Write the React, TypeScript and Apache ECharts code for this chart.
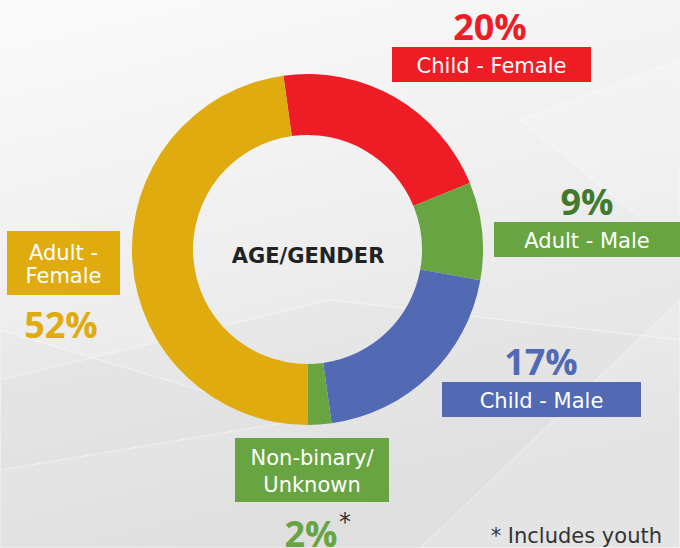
import React, { useEffect, useRef } from "react";
import * as echarts from "echarts";

const categories = ["Child - Female", "Adult - Male", "Child - Male", "Non-binary/\nUnknown", "Adult -\nFemale"];
const sliceValues = [21, 9, 20, 2.2, 47.8];
const percentLabels = ["20%", "9%", "17%", "2%", "52%"];
const sliceColors = ["#ee1d25", "#68a542", "#526ab4", "#68a542", "#dfab0e"];
const percentColors = ["#ee1d25", "#417a2c", "#526ab4", "#68a542", "#dfab0e"];
const centerTitle = "AGE/GENDER";
const footnote = "* Includes youth";
const footnoteMark = "*";

const boxLayout = [
  { x: 392, y: 47, w: 199, h: 35, px: 490, py: 26, lh: 26 },
  { x: 494, y: 222, w: 186, h: 35, px: 587, py: 201, lh: 26 },
  { x: 442, y: 382, w: 199, h: 35, px: 541, py: 361, lh: 26 },
  { x: 235, y: 438, w: 154, h: 64, px: 311, py: 533, lh: 27 },
  { x: 7, y: 231, w: 113, h: 64, px: 61, py: 324, lh: 23 },
];

const FONT = "'DejaVu Sans', sans-serif";
const PFONT = "'Open Sans', sans-serif";

export default function App() {
  const ref = useRef<HTMLDivElement>(null);
  useEffect(() => {
    document.body.style.margin = "0";
    const chart = echarts.init(ref.current!, null, { renderer: "svg" });
    const graphics: any[] = [];
    graphics.push({
      type: "rect",
      z: -10,
      shape: { x: 0, y: 0, width: 680, height: 548 },
      style: {
        fill: new echarts.graphic.LinearGradient(0, 0, 0.3, 1, [
          { offset: 0, color: "#fbfbfb" },
          { offset: 0.5, color: "#efefef" },
          { offset: 1, color: "#e1e1e1" },
        ]),
      },
    });
    const facets = [
      [[0, 380], [330, 300], [680, 340], [680, 548], [0, 548]],
      [[420, 548], [680, 300], [680, 548]],
      [[0, 330], [300, 420], [0, 470]],
      [[520, 120], [680, 60], [680, 250]],
    ];
    facets.forEach((pts, i) => {
      graphics.push({
        type: "polygon",
        z: -9,
        shape: { points: pts },
        style: { fill: i % 2 ? "rgba(255,255,255,0.18)" : "rgba(210,210,210,0.08)", stroke: "rgba(255,255,255,0.5)", lineWidth: 1 },
      });
    });
    categories.forEach((name, i) => {
      const b = boxLayout[i];
      graphics.push({
        type: "rect",
        shape: { x: b.x, y: b.y, width: b.w, height: b.h },
        style: { fill: sliceColors[i] },
      });
      graphics.push({
        type: "text",
        x: b.x + b.w / 2,
        y: b.y + b.h / 2 + 1,
        style: {
          text: name,
          fill: "#ffffff",
          font: `400 21px ${FONT}`,
          lineHeight: b.lh,
          align: "center",
          verticalAlign: "middle",
        },
      });
      graphics.push({
        type: "text",
        x: b.px,
        y: b.py,
        style: {
          text: percentLabels[i],
          fill: percentColors[i],
          font: `700 36px ${PFONT}`,
          align: "center",
          verticalAlign: "middle",
        },
      });
    });
    graphics.push({
      type: "text",
      x: 345,
      y: 522,
      style: { text: footnoteMark, fill: "#333333", font: `400 24px ${FONT}`, align: "center", verticalAlign: "middle" },
    });
    graphics.push({
      type: "text",
      x: 662,
      y: 536,
      style: { text: footnote, fill: "#333333", font: `400 21px ${FONT}`, align: "right", verticalAlign: "middle" },
    });
    graphics.push({
      type: "text",
      x: 308,
      y: 256,
      style: { text: centerTitle, fill: "#222222", font: `700 21px ${FONT}`, align: "center", verticalAlign: "middle" },
    });

    chart.setOption({
      animation: false,
      graphic: graphics,
      series: [
        {
          type: "pie",
          center: [307.5, 249.5],
          radius: [114.5, 175.5],
          startAngle: 97.9,
          clockwise: true,
          label: { show: false },
          labelLine: { show: false },
          silent: true,
          itemStyle: { borderWidth: 0 },
          data: categories.map((c, i) => ({ name: c, value: sliceValues[i], itemStyle: { color: sliceColors[i] } })),
        },
      ],
    });
    return () => chart.dispose();
  }, []);
  return <div ref={ref} style={{ width: 680, height: 548 }} />;
}
